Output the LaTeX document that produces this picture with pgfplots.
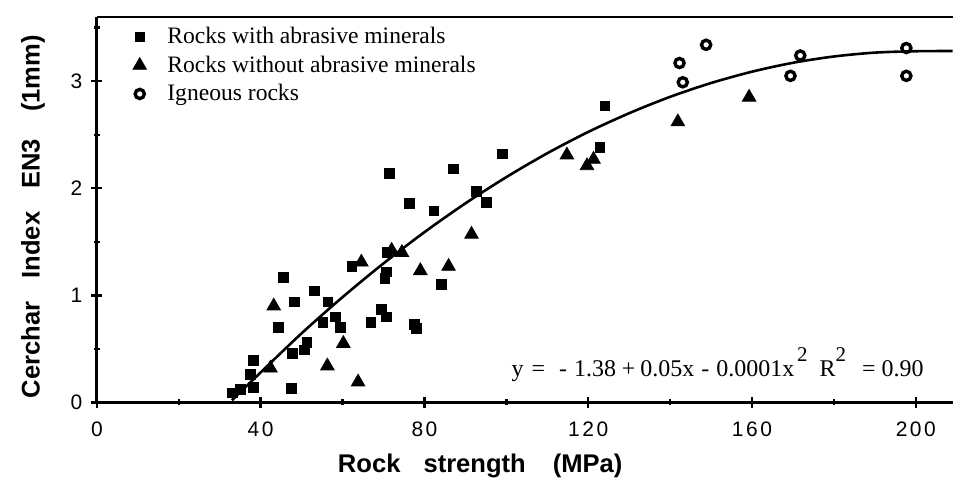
\documentclass[border=0pt]{standalone}
\usepackage{pgfplots}
\pgfplotsset{compat=1.18}
\usepackage{fontspec}
\setmainfont{Liberation Serif}
\setsansfont{Liberation Sans}
\newfontfamily\tickfont[LetterSpace=12]{Liberation Sans}

% Cerchar abrasivity index against uniaxial rock strength
\pgfplotstableread{
x     y
33.1  0.09
35.0  0.12
37.5  0.26
38.2  0.39
38.3  0.14
44.4  0.70
45.6  1.17
47.5  0.13
47.7  0.46
48.3  0.94
50.7  0.49
51.3  0.56
53.2  1.04
55.2  0.75
56.4  0.94
58.2  0.80
59.5  0.70
62.3  1.27
66.9  0.75
69.5  0.87
70.7  0.80
70.3  1.16
70.7  1.22
70.8  1.40
71.5  2.14
76.4  1.86
77.6  0.73
78.0  0.69
82.3  1.79
84.1  1.10
87.1  2.18
92.7  1.97
95.2  1.87
99.0  2.32
122.9 2.38
124.1 2.77
}\abrasive

\pgfplotstableread{
x     y
42.4  0.32
43.2  0.90
56.3  0.34
60.2  0.55
63.8  0.19
64.6  1.31
72.0  1.42
74.5  1.40
79.0  1.23
85.9  1.27
91.5  1.57
114.8 2.31
119.7 2.21
121.3 2.27
141.9 2.62
159.3 2.85
}\nonabrasive

\pgfplotstableread{
x     y
142.3 3.17
143.1 2.99
148.8 3.34
169.4 3.05
171.8 3.24
197.7 3.31
197.7 3.05
}\igneous

% regression curve, traced point by point
\pgfplotstableread{
x     y
33    0.02
40    0.28
50    0.645
60    0.983
70    1.298
80    1.590
90    1.859
100   2.104
110   2.327
120   2.526
130   2.701
140   2.854
150   2.983
160   3.089
170   3.172
180   3.231
190   3.267
200   3.280
209   3.282
}\fit

\begin{document}
\begin{tikzpicture}
\begin{axis}[
  at={(0,0)}, anchor=south west,
  scale only axis,
  width=428.5pt, height=193pt,
  xmin=0, xmax=209, ymin=0, ymax=3.6,
  axis lines=left,
  axis line style={-, line width=1.4pt},
  xtick={0,40,...,200}, minor x tick num=1,
  ytick={0,1,2,3,4}, minor y tick num=1,
  major tick length=5.5pt, minor tick length=3pt,
  every tick/.style={black, line width=1.2pt},
  /pgf/number format/assume math mode=true,
  tick label style={font=\tickfont\fontsize{10.5}{12}\selectfont},
  xticklabel style={yshift=-3.5pt},
  yticklabel style={xshift=-1pt},
  xlabel={Rock\hspace{8pt} strength\hspace{10pt} (MPa)},
  ylabel={Cerchar\hspace{8pt} Index\hspace{8pt} EN3\hspace{10pt} (1mm)},
  every axis x label/.style={at={(axis description cs:0.448,-0.166)}, anchor=center,
    font=\sffamily\bfseries\fontsize{12.8}{14}\selectfont},
  every axis y label/.style={at={(axis description cs:-0.0747,0.482)}, anchor=center, rotate=90,
    font=\sffamily\bfseries\fontsize{12.8}{14}\selectfont},
  clip=false,
  legend cell align=left,
  legend image code/.code={\path (-4pt,0pt) (11pt,0pt); \draw[#1] plot coordinates {(0pt,0pt)};},
  legend style={draw=none, fill=none, at={(axis description cs:0.036,0.99)}, anchor=north west,
    font=\fontsize{11.8}{13.5}\selectfont, row sep=0.6pt, inner sep=1pt},
]
\addplot[only marks, mark=square*, mark size=2.4pt, black] table {\abrasive};
\addlegendentry{Rocks with abrasive minerals}
\addplot[only marks, mark=triangle*, mark size=3.9pt, black] table {\nonabrasive};
\addlegendentry{Rocks without abrasive minerals}
\addplot[only marks, mark=o, mark size=2.3pt, black, line width=1.7pt] table {\igneous};
\addlegendentry{Igneous rocks}
\addplot[smooth, black, line width=1.3pt, forget plot] table {\fit};
\draw[line width=1.4pt] (rel axis cs:0,1) -- (rel axis cs:1,1);
% fitted equation, in two pieces
\node[anchor=base west, font=\fontsize{12}{13}\selectfont, inner sep=0pt]
  at (axis cs:101.2,0.24)
  {y\hspace{4pt}=\hspace{7pt}-\hspace{3.5pt}1.38\hspace{3pt}+\hspace{2.5pt}0.05x\hspace{3.5pt}-\hspace{3.5pt}0.0001x};
\node[anchor=base east, font=\fontsize{12}{13}\selectfont, inner sep=0pt]
  at (axis cs:202,0.24)
  {\raisebox{1.4ex}{\fontsize{10.5}{11}\selectfont 2}\hspace{6pt}R\raisebox{1.4ex}{\fontsize{10.5}{11}\selectfont 2}\hspace{8pt}= 0.90};
\end{axis}
\path[use as bounding box] (-48.5pt,-41.5pt) rectangle (428.5pt,201.5pt);
\end{tikzpicture}
\end{document}
